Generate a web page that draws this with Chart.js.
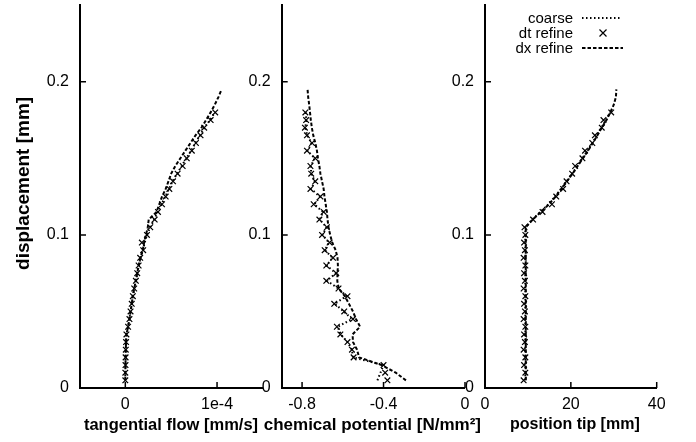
<!DOCTYPE html>
<html><head><meta charset="utf-8">
<script src="https://cdn.jsdelivr.net/npm/chart.js@4/dist/chart.umd.min.js"></script>
<style>
html,body{margin:0;padding:0;background:#fff;}
#wrap{position:relative;width:696px;height:442px;overflow:hidden;background:#fff;}
#wrap canvas{position:absolute;left:0;top:0;}
.lt{position:absolute;right:123px;font:15px 'Liberation Sans',Arial,sans-serif;color:#000;line-height:16px;white-space:nowrap;}
#legsvg{position:absolute;left:578px;top:8px;}
</style></head><body>
<div id="wrap">
<canvas id="c1" width="696" height="442"></canvas>
<canvas id="c2" width="696" height="442"></canvas>
<canvas id="c3" width="696" height="442"></canvas>
<div class="lt" style="top:10px">coarse</div>
<div class="lt" style="top:25px">dt refine</div>
<div class="lt" style="top:40px">dx refine</div>
<svg id="legsvg" width="50" height="48">
  <line x1="4" y1="10" x2="43" y2="10" stroke="#000" stroke-width="2" stroke-dasharray="1.5,2.5"/>
  <path d="M21.5 21.5 L28.5 28.5 M28.5 21.5 L21.5 28.5" stroke="#000" stroke-width="1.2"/>
  <line x1="4" y1="40" x2="45" y2="40" stroke="#000" stroke-width="2" stroke-dasharray="3.5,2"/>
</svg>
</div>
<script>
// displacement values [mm]
const dispShort = [0.005,0.010,0.015,0.020,0.025,0.030,0.035,0.040,0.045,0.050,0.055,0.060,0.065,0.070,0.075,0.080,0.085,0.090,0.095,0.100,0.105,0.110,0.115,0.120,0.125,0.130,0.135,0.140,0.145,0.150,0.155,0.160,0.165,0.170,0.175,0.180];
const dispLong = [0.005,0.010,0.015,0.020,0.025,0.030,0.035,0.040,0.045,0.050,0.055,0.060,0.065,0.070,0.075,0.080,0.085,0.090,0.095,0.100,0.105,0.110,0.115,0.120,0.125,0.130,0.135,0.140,0.145,0.150,0.155,0.160,0.165,0.170,0.175,0.180,0.185,0.190,0.195];

// panel 1: tangential flow [mm/s]
const flowCoarse = [0,0,0.002e-4,0.003e-4,0.005e-4,0.008e-4,0.012e-4,0.030e-4,0.045e-4,0.057e-4,0.070e-4,0.082e-4,0.097e-4,0.115e-4,0.130e-4,0.147e-4,0.165e-4,0.190e-4,0.212e-4,0.236e-4,0.270e-4,0.315e-4,0.352e-4,0.395e-4,0.435e-4,0.475e-4,0.515e-4,0.565e-4,0.615e-4,0.665e-4,0.718e-4,0.765e-4,0.815e-4,0.860e-4,0.925e-4,0.975e-4];
const flowDt = [0,0,0.002e-4,0.003e-4,0.005e-4,0.008e-4,0.012e-4,0.030e-4,0.045e-4,0.057e-4,0.070e-4,0.082e-4,0.097e-4,0.115e-4,0.130e-4,0.145e-4,0.162e-4,0.195e-4,0.180e-4,0.236e-4,0.272e-4,0.320e-4,0.356e-4,0.400e-4,0.440e-4,0.480e-4,0.520e-4,0.570e-4,0.625e-4,0.670e-4,0.725e-4,0.770e-4,0.820e-4,0.860e-4,0.930e-4,0.980e-4];
const flowDx = [0,0,0.002e-4,0.003e-4,0.005e-4,0.008e-4,0.012e-4,0.030e-4,0.045e-4,0.057e-4,0.070e-4,0.082e-4,0.097e-4,0.115e-4,0.130e-4,0.145e-4,0.165e-4,0.190e-4,0.205e-4,0.225e-4,0.245e-4,0.255e-4,0.340e-4,0.370e-4,0.400e-4,0.440e-4,0.470e-4,0.500e-4,0.545e-4,0.600e-4,0.655e-4,0.710e-4,0.765e-4,0.830e-4,0.880e-4,0.930e-4,0.975e-4,1.015e-4,1.050e-4];

// panel 2: chemical potential [N/mm^2]
const chemCoarse = [-0.430,-0.415,-0.400,-0.550,-0.555,-0.577,-0.610,-0.625,-0.555,-0.595,-0.640,-0.582,-0.622,-0.678,-0.634,-0.680,-0.650,-0.688,-0.668,-0.700,-0.680,-0.713,-0.697,-0.740,-0.712,-0.756,-0.737,-0.755,-0.757,-0.738,-0.774,-0.753,-0.775,-0.784,-0.779,-0.782];
const chemDt = [-0.381,-0.392,-0.400,-0.547,-0.555,-0.577,-0.612,-0.629,-0.550,-0.593,-0.642,-0.577,-0.621,-0.681,-0.632,-0.681,-0.648,-0.689,-0.665,-0.702,-0.678,-0.715,-0.694,-0.743,-0.710,-0.759,-0.735,-0.755,-0.759,-0.735,-0.776,-0.751,-0.776,-0.786,-0.780,-0.784];
const chemDx = [-0.290,-0.340,-0.410,-0.520,-0.530,-0.550,-0.552,-0.515,-0.535,-0.550,-0.570,-0.590,-0.620,-0.627,-0.626,-0.624,-0.626,-0.635,-0.652,-0.662,-0.670,-0.675,-0.678,-0.684,-0.690,-0.694,-0.702,-0.710,-0.715,-0.722,-0.727,-0.735,-0.745,-0.752,-0.757,-0.761,-0.765,-0.770,-0.773];

// panel 3: position tip [mm]
const tipCoarse = [9.4,9.4,9.4,9.4,9.4,9.4,9.4,9.4,9.4,9.4,9.4,9.4,9.4,9.4,9.4,9.4,9.4,9.4,9.4,9.4,9.4,11.0,12.9,14.8,16.3,17.7,19.0,20.3,21.5,22.7,23.9,25.0,26.1,27.1,28.2,29.1];
const tipDt = [9.0,9.4,9.1,9.4,9.0,9.3,9.1,9.4,9.0,9.3,9.1,9.4,9.0,9.3,9.1,9.4,9.0,9.3,9.1,9.4,9.2,11.2,13.4,15.6,16.6,18.2,19.0,20.3,21.0,22.7,23.3,25.0,25.6,27.2,27.6,29.4];
const tipDx = [9.5,9.5,9.5,9.5,9.5,9.5,9.5,9.5,9.5,9.5,9.5,9.5,9.5,9.5,9.5,9.5,9.5,9.5,9.5,9.5,9.5,11.1,13.0,14.9,16.4,17.8,19.1,20.4,21.6,22.8,24.0,25.1,26.2,27.2,28.3,29.2,30.0,30.5,30.6];

// ticks
const yTicks = [0, 0.1, 0.2];
const yTickLabels = ['0', '0.1', '0.2'];
const xTicks1 = [0, 1e-4];
const xTickLabels1 = ['0', '1e-4'];
const xTicks2 = [-0.8, -0.4, 0];
const xTickLabels2 = ['-0.8', '-0.4', '0'];
const xTicks3 = [0, 20, 40];
const xTickLabels3 = ['0', '20', '40'];

const FONT = "'Liberation Sans', Arial, Helvetica, sans-serif";
Chart.defaults.font.family = FONT;
Chart.defaults.color = '#000';

const inwardTicks = {
  id: 'inwardTicks',
  afterDatasetsDraw(chart) {
    const {ctx, chartArea: a} = chart;
    const xs = chart.scales.x, ys = chart.scales.y;
    ctx.save();
    ctx.strokeStyle = '#000';
    ctx.lineWidth = 1.5;
    ctx.beginPath();
    xs.ticks.forEach(t => {
      const p = xs.getPixelForValue(t.value);
      ctx.moveTo(p, a.bottom); ctx.lineTo(p, a.bottom - 6);
    });
    ys.ticks.forEach(t => {
      const p = ys.getPixelForValue(t.value);
      ctx.moveTo(a.left, p); ctx.lineTo(a.left + 6, p);
    });
    ctx.stroke();
    ctx.restore();
  }
};

// x-axis title drawn under the x scale, centred on it, without width squeezing
const xTitlePlugin = {
  id: 'xTitlePlugin',
  afterDraw(chart, args, opts) {
    const {ctx, chartArea: a} = chart;
    ctx.save();
    ctx.font = 'bold ' + opts.size + 'px ' + FONT;
    ctx.fillStyle = '#000';
    ctx.textAlign = 'center';
    ctx.textBaseline = 'middle';
    ctx.fillText(opts.text, (a.left + a.right) / 2 + (opts.dx || 0), 425);
    ctx.restore();
  }
};

function pts(xs, ys) { return xs.map((v, i) => ({x: v, y: ys[i]})); }

function makeChart(id, o) {
  const datasets = [
    {label: 'coarse', data: pts(o.coarse, dispShort), showLine: true, borderColor: '#000', borderWidth: 2, borderDash: [1.5, 2.5], pointRadius: 0, fill: false},
    {label: 'dt refine', data: pts(o.dt, dispShort), showLine: false, pointStyle: 'crossRot', pointRadius: 4, borderColor: '#000', pointBorderWidth: 1.2, backgroundColor: '#000'},
    {label: 'dx refine', data: pts(o.dx, dispLong), showLine: true, borderColor: '#000', borderWidth: 2, borderDash: [3.5, 2], pointRadius: 0, fill: false}
  ];
  return new Chart(document.getElementById(id), {
    type: 'scatter',
    data: {datasets},
    options: {
      responsive: false,
      animation: false,
      devicePixelRatio: 1,
      layout: {padding: {left: o.padL, right: o.padR, top: 4.25, bottom: 0}},
      plugins: {legend: {display: false}, tooltip: {enabled: false},
                xTitlePlugin: {text: o.xTitle, size: o.xTitleSize, dx: o.titleDx}},
      scales: {
        x: {
          type: 'linear', min: o.xmin, max: o.xmax,
          afterBuildTicks: s => { s.ticks = o.xTicks.map(v => ({value: v})); },
          afterFit: s => { s.height = 54; s.paddingLeft = 0; s.paddingRight = 0; s.paddingTop = 0; s.paddingBottom = 0; },
          ticks: {font: {size: 16}, padding: 7, autoSkip: false, maxRotation: 0,
                  callback: (v) => { const i = o.xTicks.findIndex(t => Math.abs(t - v) < 1e-12); return i >= 0 ? o.xLabels[i] : ''; }},
          grid: {display: true, drawOnChartArea: false, drawTicks: false},
          border: {display: true, color: '#000', width: 2},
          title: {display: false}
        },
        y: {
          type: 'linear', min: 0, max: 0.25,
          afterBuildTicks: s => { s.ticks = yTicks.map(v => ({value: v})); },
          afterFit: s => { s.width = o.yWidth; s.paddingTop = 0; s.paddingBottom = 0; s.paddingLeft = 0; s.paddingRight = 0; },
          ticks: {font: {size: 16}, padding: 11, autoSkip: false,
                  callback: (v) => { const i = yTicks.findIndex(t => Math.abs(t - v) < 1e-12); return i >= 0 ? yTickLabels[i] : ''; }},
          grid: {display: true, drawOnChartArea: false, drawTicks: false},
          border: {display: true, color: '#000', width: 2},
          title: {display: o.yTitle !== '', text: o.yTitle, font: {size: 19, weight: 'bold'}, padding: {top: 12, bottom: 0}}
        }
      }
    },
    plugins: [inwardTicks, xTitlePlugin]
  });
}

makeChart('c1', {coarse: flowCoarse, dt: flowDt, dx: flowDx, xmin: -0.494e-4, xmax: 1.49e-4,
  xTicks: xTicks1, xLabels: xTickLabels1, xTitle: 'tangential flow [mm/s]', xTitleSize: 16.5, titleDx: 0, yTitle: '     displacement [mm]',
  yWidth: 80, padL: 0, padR: 696 - 262});
makeChart('c2', {coarse: chemCoarse, dt: chemDt, dx: chemDx, xmin: -0.9, xmax: 0,
  xTicks: xTicks2, xLabels: xTickLabels2, xTitle: 'chemical potential [N/mm²]', xTitleSize: 17, titleDx: -1, yTitle: '',
  yWidth: 40, padL: 281.7 - 40, padR: 696 - 465});
makeChart('c3', {coarse: tipCoarse, dt: tipDt, dx: tipDx, xmin: 0, xmax: 40,
  xTicks: xTicks3, xLabels: xTickLabels3, xTitle: 'position tip [mm]', xTitleSize: 16, titleDx: 4, yTitle: '',
  yWidth: 40, padL: 485 - 40, padR: 696 - 656.7});
</script>
</body></html>
